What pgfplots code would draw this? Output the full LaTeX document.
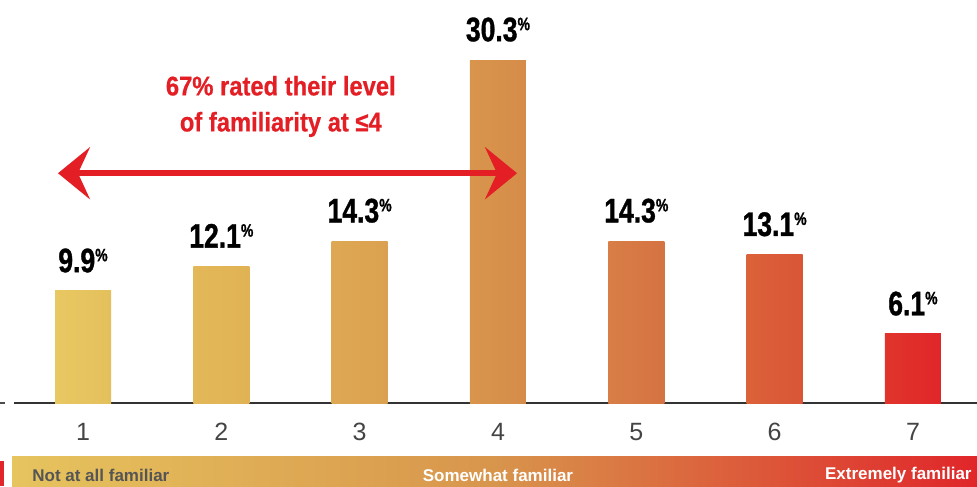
\documentclass[border=0pt]{standalone}
\usepackage{fontspec}
\setmainfont{Liberation Sans}
\newfontfamily\condb{Liberation Sans Bold}[FakeStretch=0.78, FakeBold=1]
\newfontfamily\annotf{Liberation Sans Bold}[FakeStretch=0.88, FakeBold=0.6]
\newfontfamily\bandf{Liberation Sans Bold}
\usepackage{pgfplots}
\pgfplotsset{compat=1.18}
\usetikzlibrary{arrows.meta}

\definecolor{c1l}{HTML}{E8C862}\definecolor{c1r}{HTML}{E4C05C}
\definecolor{c2l}{HTML}{E3B858}\definecolor{c2r}{HTML}{E0B254}
\definecolor{c3l}{HTML}{DEA853}\definecolor{c3r}{HTML}{DBA150}
\definecolor{c4l}{HTML}{D8954C}\definecolor{c4r}{HTML}{D58C49}
\definecolor{c5l}{HTML}{D87E46}\definecolor{c5r}{HTML}{D57342}
\definecolor{c6l}{HTML}{DB6239}\definecolor{c6r}{HTML}{D95536}
\definecolor{c7l}{HTML}{E0352B}\definecolor{c7r}{HTML}{E0262A}
\definecolor{gradL}{HTML}{E6C45E}
\definecolor{gradM}{HTML}{D8954C}
\definecolor{gradR}{HTML}{E0262A}
\definecolor{annot}{HTML}{E31E24}
\definecolor{ticktxt}{HTML}{444444}
\definecolor{bandtxt}{HTML}{555555}

\newcommand{\pct}[1]{{\condb\fontsize{17}{17}\selectfont #1\raisebox{5.5pt}{\fontsize{9}{9}\selectfont\%}}}

\pgfplotsset{
  pbar/.style 2 args={ybar, bar width=28pt, bar shift=0pt, draw=none,
    left color=#1, right color=#2,
    point meta=explicit symbolic,
    nodes near coords={\pct{\pgfplotspointmeta}},
    every node near coord/.style={text=black, anchor=south, inner sep=0pt, yshift=9pt}},
}

\begin{document}
\begin{tikzpicture}
\begin{axis}[
  scale only axis,
  width=481.5pt, height=201.5pt,
  xmin=0.5, xmax=7.463,
  ymin=0, ymax=35.6,
  axis x line=bottom,
  axis y line=none,
  axis line style={-, draw=black!80, line width=1pt},
  xtick={1,2,3,4,5,6,7},
  ytick=\empty,
  major tick length=0pt,
  /pgf/number format/assume math mode=true,
  xticklabel style={anchor=center, yshift=-14.5pt, text=ticktxt, font=\fontsize{12.5}{12.5}\selectfont},
  clip=false,
]
\addplot[pbar={c1l}{c1r}] coordinates {(1,9.9) [9.9]};
\addplot[pbar={c2l}{c2r}] coordinates {(2,12.1) [12.1]};
\addplot[pbar={c3l}{c3r}] coordinates {(3,14.3) [14.3]};
\addplot[pbar={c4l}{c4r}] coordinates {(4,30.3) [30.3]};
\addplot[pbar={c5l}{c5r}] coordinates {(5,14.3) [14.3]};
\addplot[pbar={c6l}{c6r}] coordinates {(6,13.1) [13.1]};
\addplot[pbar={c7l}{c7r}] coordinates {(7,6.1) [6.1]};

% annotation
\draw[annot, line width=3.2pt, {Stealth[length=16pt, width=26pt, inset=6pt]}-{Stealth[length=16pt, width=26pt, inset=6pt]}]
  (axis cs:0.819,20.3) -- (axis cs:4.138,20.3);
\node[text=annot, align=center, font=\annotf\fontsize{13.5}{18}\selectfont]
  at (axis cs:2.43,26.2) {67\% rated their level\\of familiarity at ≤4};

% small marks at left edge
\draw[black!70, line width=0.8pt] (axis cs:0.40,0) -- (axis cs:0.435,0);
\fill[gradR] (axis cs:0.40,-5.12) rectangle (axis cs:0.43,-7.332);

% scale band
\shade[left color=gradL, right color=gradR, middle color=gradM]
  (axis cs:0.487,-4.68) rectangle (axis cs:7.463,-7.332);
\node[anchor=west, text=bandtxt, font=\bandf\fontsize{8.5}{8.5}\selectfont, inner sep=0pt]
  at (axis cs:0.631,-6.36) {Not at all familiar};
\node[anchor=center, text=white, font=\bandf\fontsize{8.5}{8.5}\selectfont, inner sep=0pt]
  at (axis cs:4.0,-6.36) {Somewhat familiar};
\node[anchor=east, text=white, font=\bandf\fontsize{8.5}{8.5}\selectfont, inner sep=0pt]
  at (axis cs:7.427,-6.36) {Extremely familiar};

\coordinate (BL) at (axis cs:0.3999,-7.332);
\coordinate (TR) at (axis cs:7.463,35.6);
\end{axis}
\pgfresetboundingbox
\useasboundingbox (BL) rectangle (TR);
\end{tikzpicture}
\end{document}
